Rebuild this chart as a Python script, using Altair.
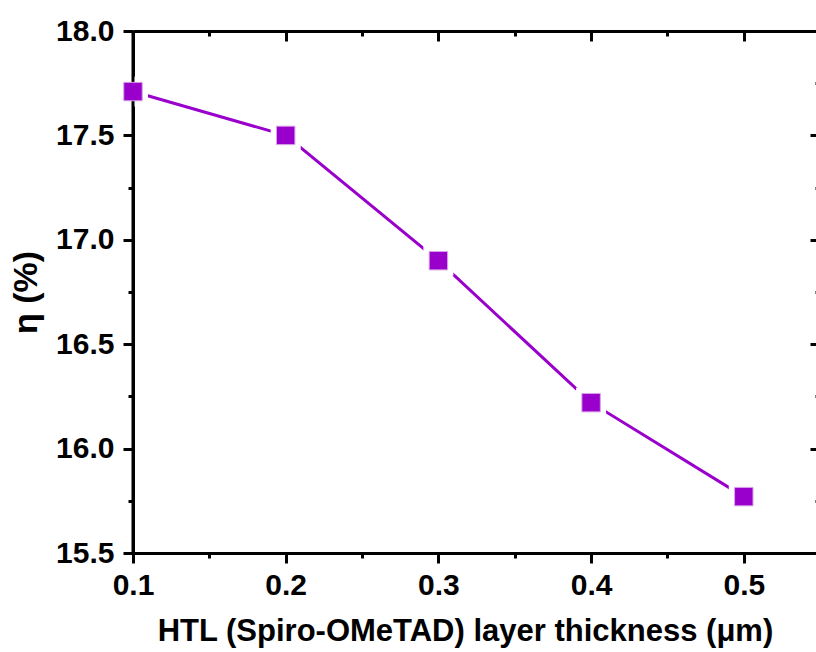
import altair as alt
import pandas as pd

thickness = [0.1, 0.2, 0.3, 0.4, 0.5]
efficiency = [17.71, 17.50, 16.90, 16.22, 15.77]

x_major = [0.1, 0.2, 0.3, 0.4, 0.5]
x_minor = [0.15, 0.25, 0.35, 0.45]
y_major = [15.5, 16.0, 16.5, 17.0, 17.5, 18.0]
y_minor = [15.75, 16.25, 16.75, 17.25, 17.75]

df = pd.DataFrame({"x": thickness, "y": efficiency})

W = 683
H = 522
PX_PER_UNIT = 1527.0
x_dom = [0.1, 0.1 + W / PX_PER_UNIT]
y_dom = [15.5, 18.0]

COLOR = "#9900CC"
FONT = "Liberation Sans"

xs = alt.Scale(domain=x_dom, nice=False, zero=False)
ys = alt.Scale(domain=y_dom, nice=False, zero=False)

common_axis = dict(
    grid=False,
    domainColor="black",
    domainWidth=3,
    tickColor="black",
    tickWidth=3,
    labelFont=FONT,
    labelFontWeight="bold",
    labelColor="black",
    labelFlush=False,
    labelOverlap=False,
    titleFont=FONT,
    titleFontWeight="bold",
    titleColor="black",
)

x_bottom_major = alt.Axis(
    orient="bottom", values=x_major, tickSize=10, labelFontSize=30,
    labelPadding=7, format=".1f",
    title="HTL (Spiro-OMeTAD) layer thickness (μm)", titleFontSize=31,
    titlePadding=16, titleX=332, titleAnchor="middle", **common_axis)
x_bottom_minor = alt.Axis(
    orient="bottom", values=x_minor, tickSize=5, labels=False, domain=False,
    title=None, **common_axis)
x_top_major = alt.Axis(
    orient="bottom", offset=-H, values=x_major, tickSize=10, labels=False,
    title=None, **common_axis)
x_top_minor = alt.Axis(
    orient="bottom", offset=-H, values=x_minor, tickSize=5, labels=False,
    domain=False, title=None, **common_axis)

y_left_major = alt.Axis(
    orient="left", values=y_major, tickSize=10, labelFontSize=30,
    labelPadding=9, format=".1f",
    title="η (%)", titleFontSize=34, titlePadding=12, **common_axis)
y_left_minor = alt.Axis(
    orient="left", values=y_minor, tickSize=5, labels=False, domain=False,
    title=None, **common_axis)
y_right_major = alt.Axis(
    orient="left", offset=-(W + 4), values=y_major, tickSize=10,
    labels=False, title=None, **common_axis)
y_right_minor = alt.Axis(
    orient="left", offset=-(W + 4), values=y_minor, tickSize=5,
    labels=False, domain=False, title=None, **common_axis)

base = alt.Chart(df)

line = base.mark_line(color=COLOR, strokeWidth=3).encode(
    x=alt.X("x:Q", scale=xs, axis=x_bottom_major),
    y=alt.Y("y:Q", scale=ys, axis=y_left_major),
)

halo = base.mark_square(color="white", opacity=1, size=900).encode(
    x=alt.X("x:Q", scale=xs, axis=x_bottom_minor),
    y=alt.Y("y:Q", scale=ys, axis=y_left_minor),
)

ghost1 = base.mark_point(opacity=0).encode(
    x=alt.X("x:Q", scale=xs, axis=x_top_major),
    y=alt.Y("y:Q", scale=ys, axis=y_right_major),
)

ghost2 = base.mark_point(opacity=0).encode(
    x=alt.X("x:Q", scale=xs, axis=x_top_minor),
    y=alt.Y("y:Q", scale=ys, axis=y_right_minor),
)

spine = alt.Chart(df.head(1)).mark_rule(color="black", strokeWidth=3).encode(
    x=alt.X("x:Q", scale=xs, axis=None),
)

markers = base.mark_square(
    color=COLOR, opacity=1, size=340, stroke="#D9A3E8", strokeWidth=1
).encode(
    x=alt.X("x:Q", scale=xs, axis=None),
    y=alt.Y("y:Q", scale=ys, axis=None),
)

chart = (
    alt.layer(line, halo, ghost1, ghost2, spine, markers)
    .resolve_scale(x="shared", y="shared")
    .resolve_axis(x="independent", y="independent")
    .properties(
        width=W,
        height=H,
        autosize=alt.AutoSizeParams(type="none"),
        padding={"left": 133, "top": 31, "right": 0, "bottom": 99},
        background="white",
    )
    .configure_view(stroke=None)
)

chart.save("out.html", embed_options={"renderer": "svg", "actions": False})

with open("out.html", encoding="utf-8") as f:
    html = f.read()
html = html.replace(
    "<head>",
    "<head>\n<style>html,body{margin:0;padding:0;overflow:hidden;}</style>",
    1)
with open("out.html", "w", encoding="utf-8") as f:
    f.write(html)
